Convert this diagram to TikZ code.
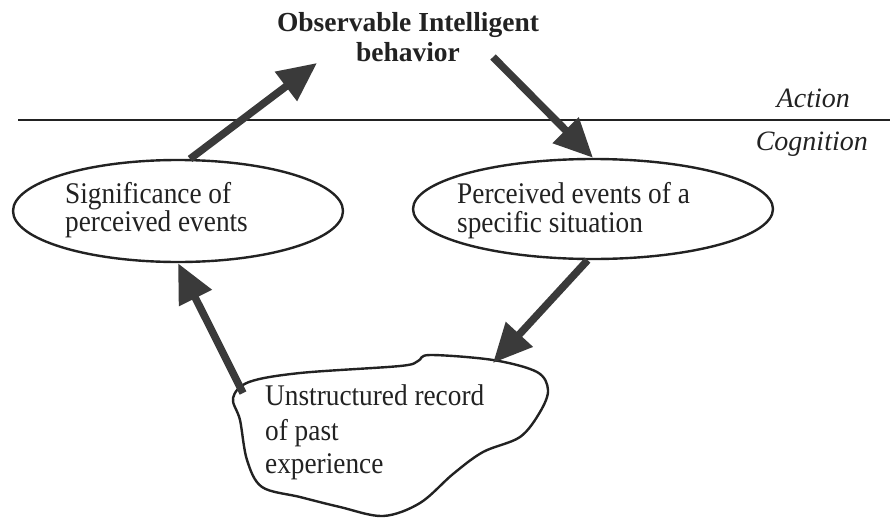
\documentclass[tikz,border=0pt]{standalone}
\usepackage{fontspec}
\setmainfont{Liberation Serif}
\newfontfamily\bodyfont{Liberation Serif}[FakeStretch=0.91]
\usetikzlibrary{shapes.geometric,arrows.meta}
\definecolor{ink}{HTML}{222222}
\definecolor{arrowgray}{HTML}{3A3A3A}
\tikzset{
  lbl/.style={inner sep=0pt, text=ink, font=\bodyfont\fontsize{30}{34}\selectfont, anchor=base west},
  titlelbl/.style={inner sep=0pt, text=ink, font=\fontsize{27.5}{30}\selectfont\bfseries, anchor=base},
  layerlbl/.style={inner sep=0pt, text=ink, font=\fontsize{28}{30}\selectfont\itshape, anchor=base east},
  oval/.style={draw=ink, line width=2.4pt, ellipse, inner sep=0pt},
  flow/.style={draw=arrowgray, line width=7.5pt, -{Triangle[length=39pt,width=35pt]}},
}
\begin{document}
\begin{tikzpicture}[x=1pt,y=-1pt]
\useasboundingbox (0,0) rectangle (890,519);

% action / cognition divide
\coordinate (divL) at (18,120);
\coordinate (divR) at (890,120);
\draw[ink, line width=2pt] (divL) -- (divR);
\node[layerlbl] (action) at (850,107) {Action};
\node[layerlbl] (cognition) at (868,150) {Cognition};

% observable behaviour
\node[titlelbl] (obs1) at (408,32) {Observable Intelligent};
\node[titlelbl] (obs2) at (408,62) {behavior};

% the two perception ovals
\node[oval, minimum width=330pt, minimum height=102pt] (sig) at (178,211) {};
\node[lbl] (sigA) at (65,203) {Significance of};
\node[lbl] (sigB) at (65,231) {perceived events};

\node[oval, minimum width=360pt, minimum height=100pt] (per) at (593,209) {};
\node[lbl] (perA) at (457,203) {Perceived events of a};
\node[lbl] (perB) at (457,232) {specific situation};

% memory blob
\draw[ink, line width=2.4pt] plot[smooth cycle, tension=0.55] coordinates {
  (233,398) (249,382) (300,373) (400,366) (418,361) (430,355) (493,360)
  (537,372) (548,390) (540,412) (520,437) (483,452) (453,474) (420,503)
  (383,516) (340,507) (300,497) (262,487) (247,460) (240,420)};
\node[lbl, font=\bodyfont\fontsize{30}{34}\selectfont] (memA) at (265,405) {Unstructured record};
\node[lbl] (memB) at (265,440) {of past};
\node[lbl] (memC) at (265,473) {experience};
\coordinate (memIn) at (493,363);
\coordinate (memOut) at (243,393);

% cycle arrows
\coordinate (obsIn) at (317,63);
\coordinate (obsOut) at (493,57);
\draw[flow] (sig.77) -- (obsIn);
\draw[flow] (obsOut) -- (per.north);
\draw[flow] (per.-96) -- (memIn);
\draw[flow] (memOut) -- (sig.south);
\end{tikzpicture}
\end{document}
